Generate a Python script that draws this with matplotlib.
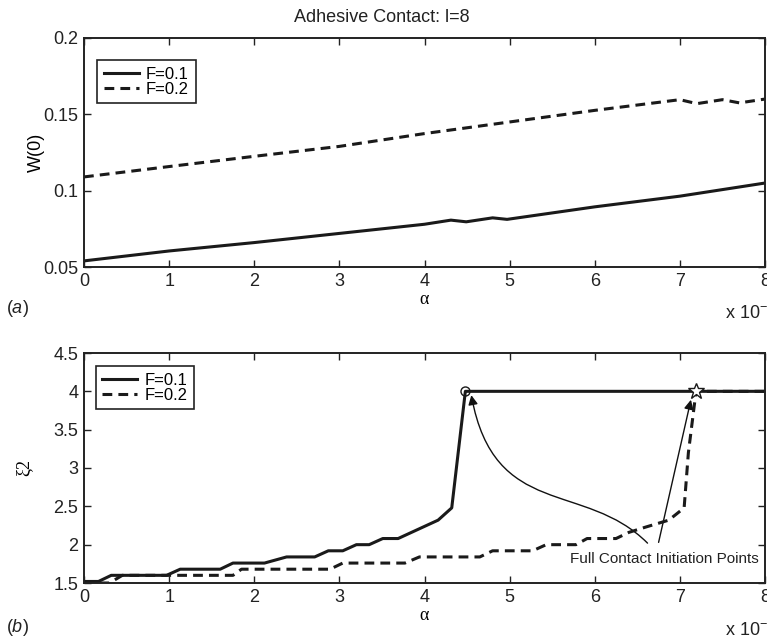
import matplotlib
matplotlib.use("Agg")
import matplotlib.pyplot as plt
from matplotlib.path import Path
from matplotlib.patches import FancyArrowPatch

plt.rcParams['font.family'] = ['Liberation Sans', 'DejaVu Sans']
plt.rcParams['mathtext.fontset'] = 'custom'
plt.rcParams['mathtext.rm'] = 'Liberation Sans'
plt.rcParams['mathtext.it'] = 'Liberation Sans:italic'

# ---- data (alpha in units of 1e-3) ----
alpha_w1 = [0, 1, 2, 3, 4, 4.31, 4.49, 4.8, 4.97, 6, 7, 8]
w_f01 = [0.054, 0.0605, 0.066, 0.072, 0.078, 0.0807, 0.0796, 0.0822, 0.0812, 0.0894, 0.0964, 0.105]

alpha_w2 = [0, 1, 2, 3, 4, 5, 6, 7, 7.2, 7.5, 7.7, 8]
w_f02 = [0.109, 0.1158, 0.1225, 0.129, 0.1374, 0.145, 0.1526, 0.1596, 0.157, 0.1596, 0.1575, 0.160]

alpha_x1 = [0, 0.17, 0.32, 0.97, 1.13, 1.6, 1.75, 2.12, 2.38, 2.71, 2.87, 3.04, 3.2,
            3.35, 3.51, 3.69, 4.16, 4.32, 4.48, 8]
xi_f01 = [1.52, 1.52, 1.6, 1.6, 1.68, 1.68, 1.76, 1.76, 1.84, 1.84, 1.92, 1.92, 2.0,
          2.0, 2.08, 2.08, 2.32, 2.48, 4.0, 4.0]

alpha_x2 = [0, 0.3, 0.45, 1.75, 1.85, 2.89, 3.04, 3.77, 3.94, 4.65, 4.8, 5.27, 5.43,
            5.78, 5.91, 6.25, 6.4, 6.6, 6.87, 7.05, 7.1, 7.19, 8]
xi_f02 = [1.5, 1.5, 1.6, 1.6, 1.68, 1.68, 1.76, 1.76, 1.84, 1.84, 1.92, 1.92, 2.0,
          2.0, 2.08, 2.08, 2.16, 2.23, 2.32, 2.48, 3.2, 4.0, 4.0]

init_f01 = (4.48, 4.0)
init_f02 = (7.19, 4.01)

labels = ['F=0.1', 'F=0.2']
xticks = [0, 1, 2, 3, 4, 5, 6, 7, 8]
yticks_a = [0.05, 0.1, 0.15, 0.2]
yticklabels_a = ['0.05', '0.1', '0.15', '0.2']
yticks_b = [1.5, 2, 2.5, 3, 3.5, 4, 4.5]
yticklabels_b = ['1.5', '2', '2.5', '3', '3.5', '4', '4.5']

W, H = 767, 639
fig = plt.figure(figsize=(W / 100, H / 100), dpi=100)

def px_axes(l, t, r, b):
    return [l / W, 1 - b / H, (r - l) / W, (b - t) / H]

ax1 = fig.add_axes(px_axes(84, 38, 765, 267))
ax2 = fig.add_axes(px_axes(84, 353, 765, 583))

LW = 2.2
DASH = (3.2, 2.0)
FS = 13
LFS = 12

for ax in (ax1, ax2):
    ax.set_xlim(0, 8)
    ax.set_xticks(xticks)
    ax.set_xticklabels([str(t) for t in xticks])
    ax.tick_params(direction='in', top=True, right=True, length=5, width=1,
                   labelsize=FS, pad=4, colors='#222222')
    for s in ax.spines.values():
        s.set_linewidth(1.4)
        s.set_color('#222222')

# ---- (a) ----
l1, = ax1.plot(alpha_w1, w_f01, color='#1a1a1a', lw=LW, label=labels[0])
l2, = ax1.plot(alpha_w2, w_f02, color='#1a1a1a', lw=LW, label=labels[1])
l2.set_dashes(DASH)
ax1.set_ylim(0.05, 0.2)
ax1.set_yticks(yticks_a)
ax1.set_yticklabels(yticklabels_a)
ax1.set_ylabel('W(0)', fontsize=FS, labelpad=-1)
ax1.set_xlabel('α', fontsize=FS, family=['Liberation Serif', 'DejaVu Serif'], labelpad=1)
leg1 = ax1.legend(loc='upper left', bbox_to_anchor=(0.019, 0.904), borderaxespad=0,
                  fontsize=LFS, handlelength=2.1, handletextpad=0.45, borderpad=0.4,
                  labelspacing=0.0, fancybox=False, framealpha=1, edgecolor='#222222')
leg1.get_frame().set_linewidth(1.2)

# ---- (b) ----
m1, = ax2.plot(alpha_x1, xi_f01, color='#1a1a1a', lw=LW, label=labels[0])
m2, = ax2.plot(alpha_x2, xi_f02, color='#1a1a1a', lw=LW, label=labels[1])
m2.set_dashes(DASH)
ax2.plot([init_f01[0]], [init_f01[1]], marker='o', ms=6.5, mfc='none', mec='#1a1a1a', mew=1.0)
ax2.plot([init_f02[0]], [init_f02[1]], marker='*', ms=12, mfc='white', mec='#1a1a1a', mew=1.0)
ax2.set_ylim(1.5, 4.5)
ax2.set_yticks(yticks_b)
ax2.set_yticklabels(yticklabels_b)
ax2.set_ylabel('ξ2', fontsize=FS, family=['Liberation Serif', 'DejaVu Serif'], labelpad=15)
ax2.set_xlabel('α', fontsize=FS, family=['Liberation Serif', 'DejaVu Serif'], labelpad=1)
leg2 = ax2.legend(loc='upper left', bbox_to_anchor=(0.017, 0.943), borderaxespad=0,
                  fontsize=LFS, handlelength=2.1, handletextpad=0.45, borderpad=0.4,
                  labelspacing=0.0, fancybox=False, framealpha=1, edgecolor='#222222')
leg2.get_frame().set_linewidth(1.2)

# annotation text and arrows
ax2.text(5.71, 1.81, 'Full Contact Initiation Points', fontsize=11, ha='left',
         va='center', color='#222222')
curve = Path([(6.62, 2.02), (5.88, 2.84), (4.82, 2.32), (4.55, 3.95)],
             [Path.MOVETO, Path.CURVE4, Path.CURVE4, Path.CURVE4])
ax2.add_patch(FancyArrowPatch(path=curve, arrowstyle='-|>', mutation_scale=14,
                              lw=1.0, color='#111111'))
ax2.add_patch(FancyArrowPatch((6.75, 2.03), (7.13, 3.89), arrowstyle='-|>',
                              mutation_scale=14, lw=1.0, color='#111111',
                              shrinkA=0, shrinkB=0))

# figure-level texts
fig.text(381.7 / W, 1 - 17 / H, 'Adhesive Contact: l=8', fontsize=FS, ha='center',
         va='center', color='#222222')
fig.text(6 / W, 1 - 308 / H, r'$\mathrm{(}\mathit{a}\mathrm{)}$', fontsize=FS,
         ha='left', va='center', color='#222222')
fig.text(6 / W, 1 - 627 / H, r'$\mathrm{(}\mathit{b}\mathrm{)}$', fontsize=FS,
         ha='left', va='center', color='#222222')
fig.text(725 / W, 1 - 313 / H, r'x 10$^{-3}$', fontsize=FS, ha='left', va='center',
         color='#222222')
fig.text(725 / W, 1 - 630 / H, r'x 10$^{-3}$', fontsize=FS, ha='left', va='center',
         color='#222222')

fig.savefig('out.png', dpi=100)
